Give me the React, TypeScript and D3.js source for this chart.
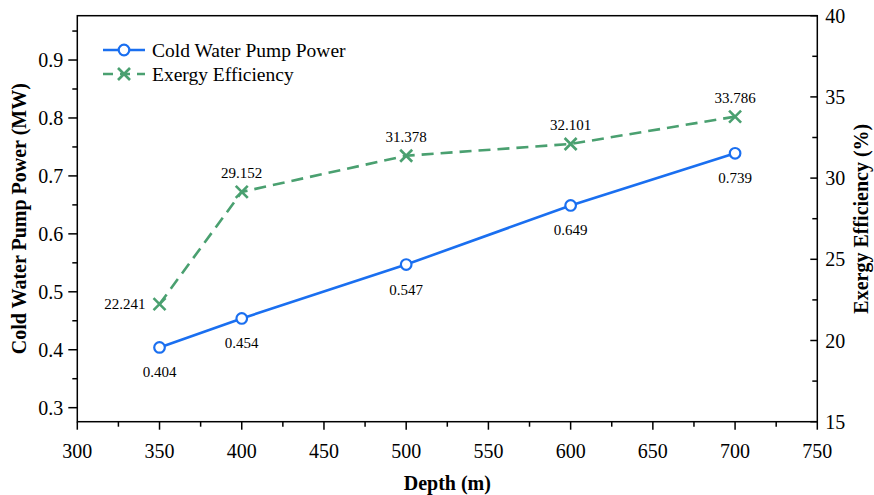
import React from "react";
import * as d3 from "d3";

const depths = [350, 400, 500, 600, 700];
const pumpPower = [0.404, 0.454, 0.547, 0.649, 0.739];
const exergyEff = [22.241, 29.152, 31.378, 32.101, 33.786];
const xTicks = [300, 350, 400, 450, 500, 550, 600, 650, 700, 750];
const leftTicks = [0.3, 0.4, 0.5, 0.6, 0.7, 0.8, 0.9];
const rightTicks = [15, 20, 25, 30, 35, 40];

const W = 874;
const H = 495;
const L = 77.3;
const R = 817.3;
const T = 15.7;
const B = 421.7;

const BLUE = "#1a6ff0";
const GREEN = "#4aa070";
const FONT = "'Liberation Serif', 'Times New Roman', serif";

export default function App() {
  const x = d3.scaleLinear().domain([300, 750]).range([L, R]);
  const yL = d3.scaleLinear().domain([0.2758, 0.9765]).range([B, T]);
  const yR = d3.scaleLinear().domain([15, 40]).range([B, T]);

  const powerLine = d3
    .line<number>()
    .x((_, i) => x(depths[i]))
    .y((d) => yL(d))(pumpPower);
  const exergyLine = d3
    .line<number>()
    .x((_, i) => x(depths[i]))
    .y((d) => yR(d))(exergyEff);

  const xMinor = d3.range(325, 750, 50);
  const leftMinor = d3.range(0.35, 0.97, 0.1);
  const rightMinor = d3.range(17.5, 40, 5);

  const cross = (cx: number, cy: number, s: number, key?: any) => (
    <g key={key} stroke={GREEN} strokeWidth={2.6} strokeLinecap="butt">
      <line x1={cx - s} y1={cy - s} x2={cx + s} y2={cy + s} />
      <line x1={cx - s} y1={cy + s} x2={cx + s} y2={cy - s} />
    </g>
  );

  return (
    <svg
      width={W}
      height={H}
      style={{ position: "absolute", left: 0, top: 0, background: "#fff" }}
      fontFamily={FONT}
    >
      <rect width={W} height={H} fill="#fff" />
      {/* frame */}
      <rect x={L} y={T} width={R - L} height={B - T} fill="none" stroke="#000" strokeWidth={1.5} />

      {/* bottom axis */}
      {xTicks.map((t) => (
        <g key={"xt" + t}>
          <line x1={x(t)} x2={x(t)} y1={B} y2={B + 8} stroke="#000" strokeWidth={1.5} />
          <text x={x(t)} y={B + 36} fontSize={20} textAnchor="middle" fill="#000">
            {t}
          </text>
        </g>
      ))}
      {xMinor.map((t) => (
        <line key={"xm" + t} x1={x(t)} x2={x(t)} y1={B} y2={B + 5} stroke="#000" strokeWidth={1.5} />
      ))}
      <text x={(L + R) / 2} y={H - 5} fontSize={20} fontWeight="bold" textAnchor="middle">
        Depth (m)
      </text>

      {/* left axis */}
      {leftTicks.map((t) => (
        <g key={"lt" + t}>
          <line x1={L - 9} x2={L} y1={yL(t)} y2={yL(t)} stroke="#000" strokeWidth={1.5} />
          <text x={L - 14} y={yL(t) + 7} fontSize={20} textAnchor="end">
            {t.toFixed(1)}
          </text>
        </g>
      ))}
      {leftMinor.map((t) => (
        <line key={"lm" + t} x1={L - 5} x2={L} y1={yL(t)} y2={yL(t)} stroke="#000" strokeWidth={1.5} />
      ))}
      <text
        transform={`translate(26,${(T + B) / 2}) rotate(-90)`}
        fontSize={20}
        fontWeight="bold"
        textAnchor="middle"
      >
        Cold Water Pump Power (MW)
      </text>

      {/* right axis */}
      {rightTicks.map((t) => (
        <g key={"rt" + t}>
          <line x1={R - 7} x2={R} y1={yR(t)} y2={yR(t)} stroke="#000" strokeWidth={1.5} />
          <text x={R + 8} y={yR(t) + 7} fontSize={20} textAnchor="start">
            {t}
          </text>
        </g>
      ))}
      {rightMinor.map((t) => (
        <line key={"rm" + t} x1={R - 5} x2={R} y1={yR(t)} y2={yR(t)} stroke="#000" strokeWidth={1.5} />
      ))}
      <text
        transform={`translate(868,${(T + B) / 2}) rotate(-90)`}
        fontSize={20}
        fontWeight="bold"
        textAnchor="middle"
      >
        Exergy Efficiency (%)
      </text>

      {/* exergy efficiency series */}
      <path d={exergyLine ?? ""} fill="none" stroke={GREEN} strokeWidth={2.6} strokeDasharray="12 7" />
      {exergyEff.map((v, i) => cross(x(depths[i]), yR(v), 6, "c" + i))}
      {exergyEff.map((v, i) =>
        i === 0 ? (
          <text key={"el" + i} x={x(depths[i]) - 14} y={yR(v) + 5} fontSize={15} textAnchor="end">
            {v.toFixed(3)}
          </text>
        ) : (
          <text key={"el" + i} x={x(depths[i])} y={yR(v) - 14} fontSize={15} textAnchor="middle">
            {v.toFixed(3)}
          </text>
        )
      )}

      {/* pump power series */}
      <path d={powerLine ?? ""} fill="none" stroke={BLUE} strokeWidth={2.6} />
      {pumpPower.map((v, i) => (
        <circle key={"p" + i} cx={x(depths[i])} cy={yL(v)} r={5.3} fill="#fff" stroke={BLUE} strokeWidth={2.2} />
      ))}
      {pumpPower.map((v, i) => (
        <text key={"pl" + i} x={x(depths[i])} y={yL(v) + 30} fontSize={15} textAnchor="middle">
          {v.toFixed(3)}
        </text>
      ))}

      {/* legend */}
      <g>
        <line x1={103} x2={145} y1={50} y2={50} stroke={BLUE} strokeWidth={2.6} />
        <circle cx={124} cy={50} r={5.3} fill="#fff" stroke={BLUE} strokeWidth={2.2} />
        <text x={152} y={57} fontSize={19.5}>
          Cold Water Pump Power
        </text>
        <line x1={103} x2={145} y1={74} y2={74} stroke={GREEN} strokeWidth={2.6} strokeDasharray="10 7" />
        {cross(124, 74, 6)}
        <text x={152} y={81} fontSize={19.5}>
          Exergy Efficiency
        </text>
      </g>
    </svg>
  );
}
